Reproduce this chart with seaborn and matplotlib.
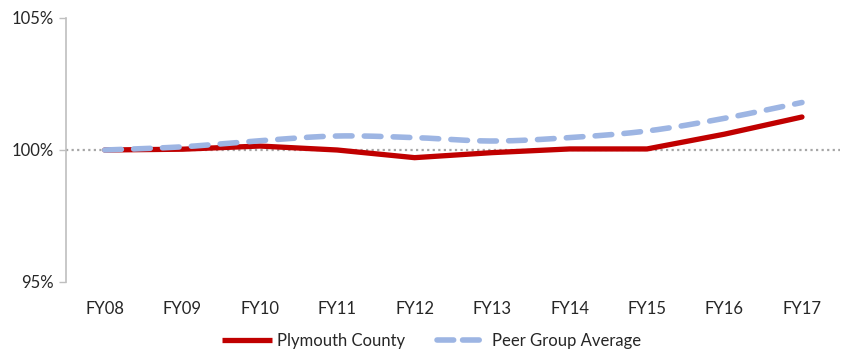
import numpy as np
import pandas as pd
import matplotlib
matplotlib.use("Agg")
import matplotlib.pyplot as plt
from matplotlib.lines import Line2D
import seaborn as sns

years = ["FY08", "FY09", "FY10", "FY11", "FY12", "FY13", "FY14", "FY15", "FY16", "FY17"]
plymouth = [100.0, 100.03, 100.15, 100.0, 99.71, 99.9, 100.04, 100.04, 100.6, 101.25]
peer_avg = [100.0, 100.12, 100.35, 100.53, 100.47, 100.34, 100.47, 100.72, 101.2, 101.8]
y_ticks = [95, 100, 105]

RED = "#C00000"
BLUE = "#9DB5E3"
GRID = "#A6A6A6"

sns.set_theme(style="white")
plt.rcParams["font.family"] = ["Lato", "DejaVu Sans"]

fig = plt.figure(figsize=(8.46, 3.55), dpi=100)
ax = fig.add_axes([66 / 846, 1 - 282 / 355, (840 - 66) / 846, (282 - 18) / 355])

x = np.arange(len(years))
df = pd.DataFrame({"year": x, "Plymouth County": plymouth})


def smooth(xs, ys, steps=30):
    """Catmull-Rom style smoothing of a polyline (as used for smoothed chart lines)."""
    xs = np.asarray(xs, float)
    ys = np.asarray(ys, float)
    px = np.concatenate([[xs[0]], xs, [xs[-1]]])
    py = np.concatenate([[ys[0]], ys, [ys[-1]]])
    out_x, out_y = [], []
    t = np.linspace(0, 1, steps, endpoint=False)
    for i in range(1, len(px) - 2):
        p0 = np.array([px[i], py[i]])
        p3 = np.array([px[i + 1], py[i + 1]])
        p1 = p0 + (np.array([px[i + 1], py[i + 1]]) - np.array([px[i - 1], py[i - 1]])) / 6
        p2 = p3 - (np.array([px[i + 2], py[i + 2]]) - np.array([px[i], py[i]])) / 6
        b = ((1 - t) ** 3)[:, None] * p0 + (3 * (1 - t) ** 2 * t)[:, None] * p1 \
            + (3 * (1 - t) * t ** 2)[:, None] * p2 + (t ** 3)[:, None] * p3
        out_x.extend(b[:, 0])
        out_y.extend(b[:, 1])
    out_x.append(xs[-1])
    out_y.append(ys[-1])
    return np.array(out_x), np.array(out_y)


# reference line at 100%
ax.axhline(100, color=GRID, lw=1.6, ls=(0, (1, 1.5)), zorder=1)

sns.lineplot(data=df, x="year", y="Plymouth County", ax=ax, color=RED, lw=3.8,
             zorder=2, solid_capstyle="round", solid_joinstyle="miter")

sx, sy = smooth(x, peer_avg)
sns.lineplot(x=sx, y=sy, ax=ax, color=BLUE, lw=4.0, sort=False, zorder=3,
             dashes=False, solid_capstyle="round")
ax.lines[-1].set_linestyle((0, (3.0, 2.2)))
ax.lines[-1].set_dash_capstyle("round")

ax.set_xlim(-0.5, len(years) - 0.5 + (840 - 802 - 38.7) / 77.4)
ax.set_ylim(95, 105)
ax.set_xticks(x)
ax.set_xticklabels(years)
ax.set_yticks(y_ticks)
ax.set_yticklabels([f"{v}%" for v in y_ticks])
ax.set_xlabel("")
ax.set_ylabel("")

for side in ["top", "right", "bottom"]:
    ax.spines[side].set_visible(False)
ax.spines["left"].set_color("#BFBFBF")
ax.spines["left"].set_linewidth(1.2)

ax.tick_params(axis="y", which="both", left=True, length=5, width=1.0,
               color="#BFBFBF", labelsize=12, labelcolor="#262626", pad=4)
ax.tick_params(axis="x", bottom=False, labelsize=12, labelcolor="#262626", pad=8)

handles = [
    Line2D([], [], color=RED, lw=3.8, solid_capstyle="butt"),
    Line2D([], [], color=BLUE, lw=4.0, ls=(0, (3.0, 1.6)), dash_capstyle="round"),
]
fig.legend(handles, ["Plymouth County", "Peer Group Average"], loc="lower center",
           bbox_to_anchor=(0.51, -0.025), ncol=2, frameon=False, fontsize=12,
           handlelength=3.0, handletextpad=0.3, columnspacing=1.9,
           labelcolor="#262626")

fig.savefig("out.png", dpi=100)
